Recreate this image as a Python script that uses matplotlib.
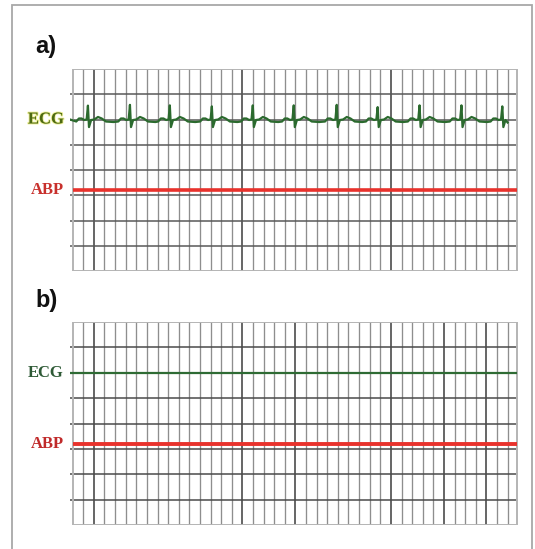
#!/usr/bin/env python3
"""ECG / ABP monitor strips: a) ECG trace with flat ABP, b) both flat."""

import matplotlib
matplotlib.use("Agg")
import matplotlib.pyplot as plt
from matplotlib.patches import Rectangle
import matplotlib.patheffects as pe

# signal levels on the strip (in grid rows, 0 = bottom line)
ecg_level = 6.0
abp_level = 3.2

# R-peak positions (grid columns) and their heights above baseline, panel a
ecg_r_peaks = [1.44, 5.40, 9.16, 13.12, 16.98, 20.84, 24.89, 28.75, 32.70, 36.65, 40.50]
ecg_r_heights = [0.55, 0.58, 0.56, 0.52, 0.56, 0.56, 0.58, 0.49, 0.56, 0.56, 0.52]

# one beat: offset from the R peak, deflection from baseline
beat_offsets = [-1.1, -0.85, -0.6, -0.35, -0.12, 0.0, 0.1, 0.3, 0.6, 0.95, 1.3, 1.7, 2.4]
beat_shape = [-0.08, 0.04, 0.04, -0.02, 0.0, None, -0.30, -0.02, 0.0, 0.10, 0.04, -0.08, -0.10]

trace_start, trace_end = -0.25, 41.0

# darker vertical lines seen on each strip
dark_cols_a = [2, 16, 30]
dark_cols_b = [2, 16, 21, 30, 35, 39]

N_COLS = 41
N_ROWS = 8
X_RIGHT = 41.93


def build_ecg():
    xs = [trace_start]
    ys = [ecg_level]
    for peak, height in zip(ecg_r_peaks, ecg_r_heights):
        for off, val in zip(beat_offsets, beat_shape):
            if peak + off > trace_end:
                break
            xs.append(peak + off)
            ys.append(ecg_level + (height if val is None else val))
    xs.append(trace_end)
    ys.append(ecg_level - 0.12)
    return xs, ys


def draw_grid(ax, dark_cols, hline_color):
    for c in range(1, N_COLS + 1):
        dark = c in dark_cols
        ax.plot([c, c], [0, N_ROWS], color="#3c3c3c" if dark else "#8e8e8e",
                lw=1.1 if dark else 0.95, zorder=1)
    for r in range(1, N_ROWS):
        ax.plot([-0.25, X_RIGHT], [r, r], color=hline_color, lw=1.1, zorder=1)
    ax.add_patch(Rectangle((0, 0), X_RIGHT, N_ROWS, fill=False,
                           edgecolor="#b4b4b4", lw=1.4, zorder=2))


def label(ax, y, text, color, glow=None):
    effects = None
    if glow:
        effects = [pe.withStroke(linewidth=1.4, foreground=glow, alpha=0.55)]
    ax.text(-0.85, y, text, ha="right", va="center", fontsize=12,
            fontweight="bold", family="Liberation Serif", color=color,
            clip_on=False, path_effects=effects)


def main():
    W, H = 535, 549
    fig = plt.figure(figsize=(W / 100, H / 100), dpi=100)

    # outer frame, open at the bottom
    fig.patches.append(Rectangle((12 / W, -0.05), (532 - 12) / W, 1.05 - 5 / H,
                                 transform=fig.transFigure, fill=False,
                                 edgecolor="#a8a8a8", lw=1.3))

    ax_a = fig.add_axes([70 / W, (H - 271) / H, 448 / W, 202 / H])
    ax_b = fig.add_axes([70 / W, (H - 525) / H, 448 / W, 203 / H])

    for ax in (ax_a, ax_b):
        ax.set_xlim(-0.25, X_RIGHT + 0.05)
        ax.set_ylim(0, N_ROWS)
        ax.axis("off")

    draw_grid(ax_a, dark_cols_a, "#585858")
    draw_grid(ax_b, dark_cols_b, "#4a4a4a")

    # panel a
    xs, ys = build_ecg()
    ax_a.plot(xs, ys, color="#2b6a2e", lw=1.6, zorder=4, solid_joinstyle="round")
    ax_a.plot([0.0, X_RIGHT], [abp_level, abp_level], color="#e8322c", lw=2.6,
              zorder=4, solid_capstyle="butt")
    label(ax_a, ecg_level, "ECG", "#4d6a12", glow="#e4e650")
    label(ax_a, abp_level, "ABP", "#c8302c")

    # panel b
    ax_b.plot([trace_start, X_RIGHT], [ecg_level, ecg_level], color="#2e6b34",
              lw=1.6, zorder=4, solid_capstyle="butt")
    ax_b.plot([0.0, X_RIGHT], [abp_level, abp_level], color="#e8322c", lw=2.8,
              zorder=4, solid_capstyle="butt")
    label(ax_b, ecg_level, "ECG", "#2e5a36")
    label(ax_b, abp_level, "ABP", "#c02a2a")

    fig.text(35 / W, 1 - 47 / H, "a)", ha="left", va="center", fontsize=17,
             fontweight="bold", family="Liberation Sans", color="#111111")
    fig.text(35 / W, 1 - 301 / H, "b)", ha="left", va="center", fontsize=17,
             fontweight="bold", family="Liberation Sans", color="#111111")

    fig.savefig("out.png", dpi=100)
    plt.close(fig)


if __name__ == "__main__":
    main()
